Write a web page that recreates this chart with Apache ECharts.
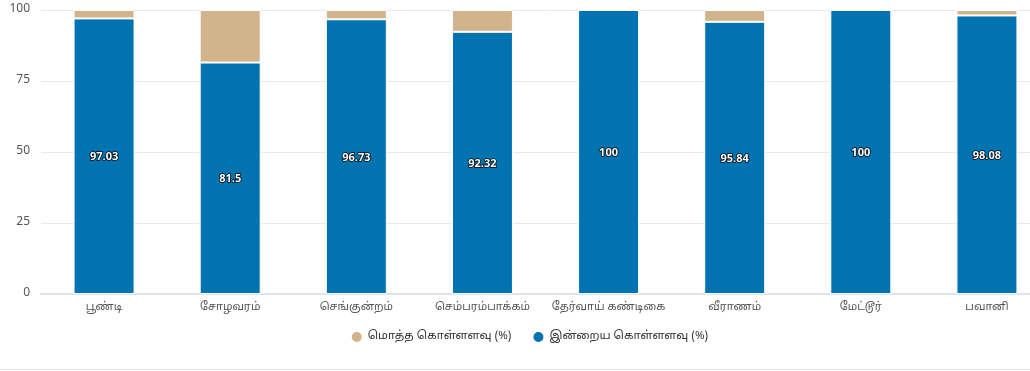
<!DOCTYPE html>
<html><head><meta charset="utf-8">
<script src="https://cdn.jsdelivr.net/npm/echarts@6/dist/echarts.min.js"></script>
<style>html,body{margin:0;padding:0;background:#fff;overflow:hidden;width:1030px;height:371px}#c{width:1058px;height:371px}</style>
</head><body><div id="c"></div>
<script>
const categories = ['பூண்டி','சோழவரம்','செங்குன்றம்','செம்பரம்பாக்கம்','தேர்வாய் கண்டிகை','வீராணம்','மேட்டூர்','பவானி'];
const todayCapacity = [97.03, 81.5, 96.73, 92.32, 100, 95.84, 100, 98.08];
const totalCapacity = [100, 100, 100, 100, 100, 100, 100, 100];
const seriesNames = ['மொத்த கொள்ளளவு (%)', 'இன்றைய கொள்ளளவு (%)'];
const yTicks = [0, 25, 50, 75, 100];

const remainder = totalCapacity.map((t, i) => +(t - todayCapacity[i]).toFixed(2));
const font = '"Noto Sans Tamil", "Lohit Tamil", "Noto Sans", sans-serif';
const chart = echarts.init(document.getElementById('c'), null, {renderer: 'canvas'});
chart.setOption({
  animation: false,
  textStyle: {fontFamily: font},
  grid: {left: 41, right: 8, top: 10, bottom: 77, containLabel: false},
  legend: {
    data: seriesNames, top: 325, left: 'center', icon: 'circle', itemWidth: 12, itemHeight: 12, itemGap: 20,
    textStyle: {color: '#333', fontSize: 11.5, fontFamily: font}
  },
  xAxis: {
    type: 'category', data: categories,
    axisLine: {lineStyle: {color: '#dfe3ee', width: 2}},
    axisTick: {show: false},
    axisLabel: {color: '#555', fontSize: 11, margin: 8, interval: 0}
  },
  yAxis: {
    type: 'value', min: 0, max: 100, interval: 25,
    axisLine: {show: false}, axisTick: {show: false},
    axisLabel: {color: '#555', fontSize: 12, margin: 11, fontFamily: font, formatter: v => yTicks.includes(v) ? String(v) : ''},
    splitLine: {lineStyle: {color: '#e9e9e9'}}
  },
  series: [
    {
      name: seriesNames[1], type: 'bar', stack: 's', data: todayCapacity, barWidth: 61,
      itemStyle: {color: '#0073b0', borderColor: '#fff', borderWidth: 1},
      label: {show: true, position: 'inside', offset: [0, 2], color: '#fff', fontWeight: 'bold', fontSize: 11,
        textBorderColor: '#000', textBorderWidth: 1.5, fontFamily: font}
    },
    {
      name: seriesNames[0], type: 'bar', stack: 's', data: remainder, barWidth: 61,
      itemStyle: {color: '#d2b48c', borderColor: '#fff', borderWidth: 1},
      label: {show: false}
    }
  ]
});
</script>
<div style="position:absolute;left:0;top:369px;width:1030px;height:1px;background:#e0e0e6"></div>
</body></html>
